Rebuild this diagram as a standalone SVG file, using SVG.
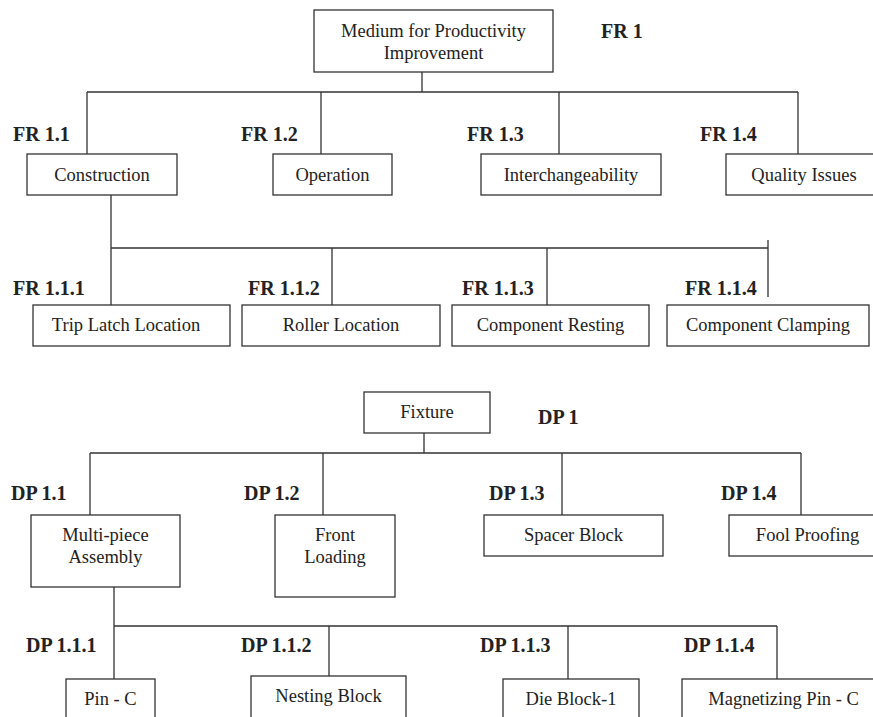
<svg xmlns="http://www.w3.org/2000/svg" width="873" height="717" viewBox="0 0 873 717">
  <style>
    .box { fill: #fff; stroke: #333; stroke-width: 1.3; }
    .link { fill: none; stroke: #333; stroke-width: 1.3; }
    text { font-family: 'Liberation Serif', 'Times New Roman', Times, 'DejaVu Serif', serif; fill: #222; }
    .t { font-size: 18.5px; text-anchor: middle; }
    .lbl { font-size: 20px; font-weight: bold; }
  </style>
  <rect width="873" height="717" fill="#fff"/>

  <!-- tree connectors -->
  <g id="connectors" class="link">
    <!-- FR hierarchy -->
    <path d="M422 72 V92 M87 92 H798 M87 92 V154 M321 92 V154 M559 92 V154 M798 92 V154"/>
    <path d="M111 195 V248 H768 M111 248 V305 M332 248 V305 M547 248 V305 M768 240 V297"/>
    <!-- DP hierarchy -->
    <path d="M424 433 V453 M90 453 H801 M90 453 V515 M323 453 V515 M562 453 V515 M801 453 V515"/>
    <path d="M114 587 V626 H777 M114 626 V679 M329 626 V676 M568 626 V679 M777 626 V679"/>
  </g>

  <!-- FR nodes -->
  <g id="fr1" font-family="Liberation Serif, serif">
    <rect class="box" x="314" y="10" width="239" height="62"/>
    <text class="t" x="433.5" y="36.5">Medium for Productivity</text>
    <text class="t" x="433.5" y="58.5">Improvement</text>
    <text class="lbl" x="601" y="38">FR 1</text>
  </g>
  <g id="fr1-1">
    <rect class="box" x="27" y="154" width="150" height="41"/>
    <text class="t" x="102" y="180.5">Construction</text>
    <text class="lbl" x="13" y="141">FR 1.1</text>
  </g>
  <g id="fr1-2">
    <rect class="box" x="273" y="154" width="119" height="41"/>
    <text class="t" x="332.5" y="180.5">Operation</text>
    <text class="lbl" x="241" y="141">FR 1.2</text>
  </g>
  <g id="fr1-3">
    <rect class="box" x="481" y="154" width="180" height="41"/>
    <text class="t" x="571" y="180.5">Interchangeability</text>
    <text class="lbl" x="467" y="141">FR 1.3</text>
  </g>
  <g id="fr1-4">
    <rect class="box" x="726" y="154" width="156" height="41"/>
    <text class="t" x="804" y="180.5">Quality Issues</text>
    <text class="lbl" x="700" y="141">FR 1.4</text>
  </g>
  <g id="fr1-1-1">
    <rect class="box" x="33" y="305" width="197" height="41"/>
    <text class="t" x="126" y="331">Trip Latch Location</text>
    <text class="lbl" x="13" y="295">FR 1.1.1</text>
  </g>
  <g id="fr1-1-2">
    <rect class="box" x="242" y="305" width="198" height="41"/>
    <text class="t" x="341" y="331">Roller Location</text>
    <text class="lbl" x="248" y="295">FR 1.1.2</text>
  </g>
  <g id="fr1-1-3">
    <rect class="box" x="452" y="305" width="197" height="41"/>
    <text class="t" x="550.5" y="331">Component Resting</text>
    <text class="lbl" x="462" y="295">FR 1.1.3</text>
  </g>
  <g id="fr1-1-4">
    <rect class="box" x="667" y="305" width="202" height="41"/>
    <text class="t" x="768" y="331">Component Clamping</text>
    <text class="lbl" x="685" y="295">FR 1.1.4</text>
  </g>

  <!-- DP nodes -->
  <g id="dp1">
    <rect class="box" x="364" y="392" width="126" height="41"/>
    <text class="t" x="427" y="418">Fixture</text>
    <text class="lbl" x="538" y="424">DP 1</text>
  </g>
  <g id="dp1-1">
    <rect class="box" x="31" y="515" width="149" height="72"/>
    <text class="t" x="105.5" y="541">Multi-piece</text>
    <text class="t" x="105.5" y="563">Assembly</text>
    <text class="lbl" x="11" y="500">DP 1.1</text>
  </g>
  <g id="dp1-2">
    <rect class="box" x="275" y="515" width="120" height="82"/>
    <text class="t" x="335" y="541">Front</text>
    <text class="t" x="335" y="563">Loading</text>
    <text class="lbl" x="244" y="500">DP 1.2</text>
  </g>
  <g id="dp1-3">
    <rect class="box" x="484" y="515" width="179" height="41"/>
    <text class="t" x="573.5" y="541">Spacer Block</text>
    <text class="lbl" x="489" y="500">DP 1.3</text>
  </g>
  <g id="dp1-4">
    <rect class="box" x="729" y="515" width="157" height="41"/>
    <text class="t" x="807.5" y="541">Fool Proofing</text>
    <text class="lbl" x="721" y="500">DP 1.4</text>
  </g>
  <g id="dp1-1-1">
    <rect class="box" x="66" y="679" width="89" height="50"/>
    <text class="t" x="110.5" y="705">Pin - C</text>
    <text class="lbl" x="26" y="652">DP 1.1.1</text>
  </g>
  <g id="dp1-1-2">
    <rect class="box" x="251" y="676" width="155" height="53"/>
    <text class="t" x="328.5" y="702">Nesting Block</text>
    <text class="lbl" x="241" y="652">DP 1.1.2</text>
  </g>
  <g id="dp1-1-3">
    <rect class="box" x="503" y="679" width="136" height="50"/>
    <text class="t" x="571" y="705">Die Block-1</text>
    <text class="lbl" x="480" y="652">DP 1.1.3</text>
  </g>
  <g id="dp1-1-4">
    <rect class="box" x="682" y="679" width="203" height="50"/>
    <text class="t" x="783.5" y="705">Magnetizing Pin - C</text>
    <text class="lbl" x="684" y="652">DP 1.1.4</text>
  </g>
</svg>
